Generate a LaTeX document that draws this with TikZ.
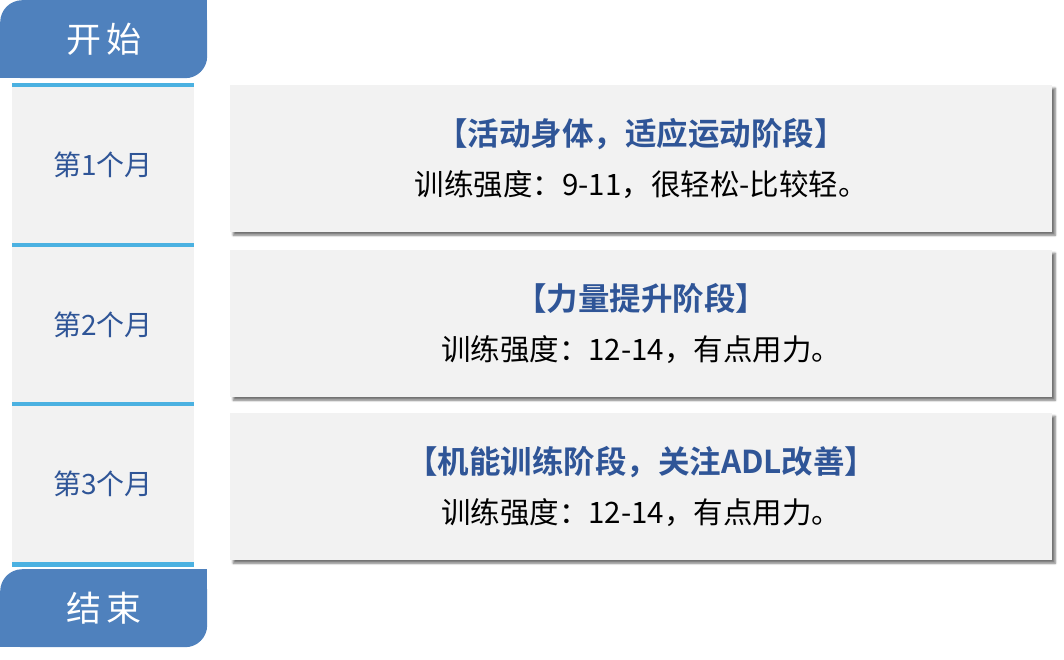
\documentclass[tikz,border=0pt]{standalone}
\usepackage{fontspec}
\setmainfont{Noto Sans CJK SC}[BoldFont={Noto Sans CJK SC Bold}]
\usetikzlibrary{shadows.blur}
\definecolor{tabblue}{HTML}{4F81BD}
\definecolor{lineblue}{HTML}{4BB1E1}
\definecolor{textblue}{HTML}{2F5597}
\definecolor{cellgrey}{HTML}{F2F2F2}

\begin{document}
\begin{tikzpicture}[x=1pt,y=-1pt,
  tab/.style={fill=tabblue,rounded corners=22pt,minimum width=207pt,minimum height=78pt,
    anchor=north west,text=white,font=\fontsize{35}{38}\selectfont,inner sep=0pt},
  cell/.style={fill=cellgrey,minimum width=182pt,minimum height=160pt,anchor=north west,
    text=textblue,font=\fontsize{28}{30}\selectfont,inner sep=0pt},
  sep/.style={draw=lineblue,line width=4.5pt},
  stage/.style={fill=cellgrey,minimum width=822pt,minimum height=147pt,anchor=north west,
    align=center,inner sep=0pt,font=\fontsize{29.5}{50}\selectfont,
    blur shadow={shadow xshift=3pt,shadow yshift=-3pt,shadow blur steps=6,shadow opacity=55}}]
\useasboundingbox (0,0) rectangle (1064,659);

% begin and end tabs
\node[tab] (start) at (0,0) {开\hspace{5pt}始};
\fill[tabblue] (start.north east) rectangle ++(-30,30);
\fill[tabblue] (start.south west) rectangle ++(30,-30);
\node[tab] (stop) at (0,569) {结\hspace{5pt}束};
\fill[tabblue] (stop.north east) rectangle ++(-30,30);
\fill[tabblue] (stop.south west) rectangle ++(30,-30);

% months
\foreach \i/\y in {1/85,2/245,3/404}{
  \node[cell] (m\i) at (12,\y) {第\i 个月};
  \draw[sep] (m\i.north west) -- (m\i.north east);
}
\draw[sep] (m3.south west) -- (m3.south east);

% stages
\node[stage] (s1) at (230,85)
  {{\bfseries\color{textblue}\fontsize{31.5}{50}\selectfont 【活动身体，适应运动阶段】}\\训练强度：9-11，很轻松-比较轻。};
\node[stage] (s2) at (230,250)
  {{\bfseries\color{textblue}\fontsize{31.5}{50}\selectfont 【力量提升阶段】}\\训练强度：12-14，有点用力。};
\node[stage] (s3) at (230,413)
  {{\bfseries\color{textblue}\fontsize{31.5}{50}\selectfont 【机能训练阶段，关注ADL改善】}\\训练强度：12-14，有点用力。};
\end{tikzpicture}
\end{document}
